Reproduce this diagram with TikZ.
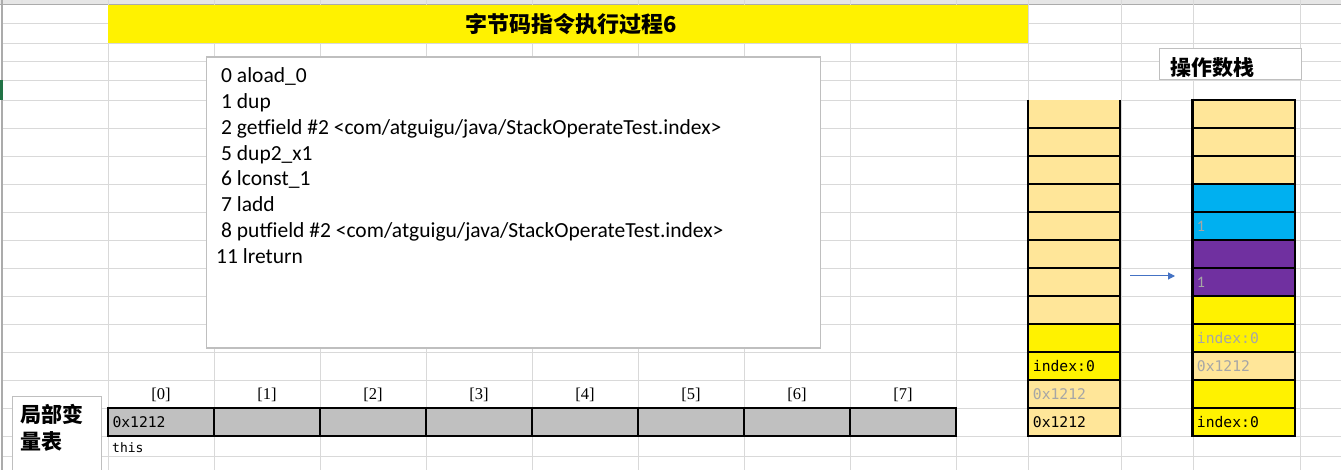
\documentclass[tikz,border=0pt]{standalone}
\usepackage{fontspec}
\usepackage{xcolor}
\usetikzlibrary{positioning,arrows.meta}
\newfontfamily\cjk{Noto Sans CJK SC}
\newfontfamily\codefont{Carlito}
\newfontfamily\cellfont{DejaVu Sans Mono}
\newfontfamily\idxfont{Liberation Serif}

\definecolor{gridgray}{HTML}{D9D9D9}
\definecolor{headgray}{HTML}{E6E6E6}
\definecolor{headline}{HTML}{ABABAB}
\definecolor{boxgray}{HTML}{BFBFBF}
\definecolor{cellbuff}{HTML}{FFE699}
\definecolor{stackblue}{HTML}{00B0F0}
\definecolor{stackpurple}{HTML}{7030A0}
\definecolor{lvgray}{HTML}{C0C0C0}
\definecolor{fadetext}{HTML}{A6A6A6}
\definecolor{arrowblue}{HTML}{4472C4}
\definecolor{selgreen}{HTML}{217346}

\tikzset{
  gridline/.style={
    draw = gridgray,
    line width = 0.8pt
  },
  textbox/.style={
    draw = boxgray,
    line width = 1.2pt,
    fill = white,
    inner sep = 0pt
  },
  lvcell/.style={
    draw,
    line width = 2.5pt,
    fill = lvgray,
    minimum width = 106pt,
    minimum height = 28pt,
    inner sep = 0pt,
    outer sep = 0pt
  },
  lstack/.style={
    draw,
    line width = 2.6pt,
    minimum width = 92pt,
    minimum height = 28pt,
    inner sep = 0pt,
    outer sep = 0pt
  },
  rstack/.style={
    draw,
    line width = 2.6pt,
    minimum width = 102.5pt,
    minimum height = 28pt,
    inner sep = 0pt,
    outer sep = 0pt
  },
  val/.style={
    anchor = west,
    inner sep = 0pt,
    font = \cellfont\fontsize{14.7}{16}\selectfont
  },
  numval/.style={
    anchor = west,
    inner sep = 0pt,
    text = fadetext,
    font = \codefont\fontsize{16}{17}\selectfont
  },
  fadedtext/.style={
    text = fadetext
  },
  idx/.style={
    inner sep = 0pt,
    font = \idxfont\fontsize{16.5}{18}\selectfont
  },
  codeline/.style={
    anchor = base west,
    inner sep = 0pt,
    font = \codefont\fontsize{21.5}{24}\selectfont
  },
  cjklabel/.style={
    inner sep = 0pt,
    font = \cjk\bfseries\fontsize{21}{27}\selectfont
  }
}

\begin{document}
\begin{tikzpicture}[x=1pt,y=-1pt]
    \useasboundingbox (0,0) rectangle (1341,470);
    \fill[white] (0,0) rectangle (1341,470);

    % sheet grid
    \fill[headgray] (0,0) rectangle (1341,4.5);
    \draw[headline] (0,4.5) -- (1341,4.5);
    \draw[headline, line width=1.2pt] (2,0) -- (2,470);
    \fill[selgreen] (0,80) rectangle (2.5,100);
    \foreach \gx in {108,214,...,956,1028,1121,1193,1300}
        \draw[gridline] (\gx,0) -- (\gx,470);
    \foreach \gy in {23,43,61,80,100,128,...,436,456}
        \draw[gridline] (3,\gy) -- (1341,\gy);

    % title
    \node[fill=yellow, minimum width=920pt, minimum height=38pt, inner sep=0pt] (title) at (568,24) {};
    \node[cjklabel, font=\cjk\bfseries\fontsize{22}{24}\selectfont] (titletext) at (571,24) {字节码指令执行过程6};

    % bytecode listing
    \node[textbox, minimum width=614pt, minimum height=291pt] (codebox) at (513.5,202.5) {};
    \node[codeline] (c0) at (221,82.7) {0 aload\_0};
    \node[codeline] (c1) at (221,108.5) {1 dup};
    \node[codeline] (c2) at (221,134.3) {2 getfield \#2 <com/atguigu/java/StackOperateTest.index>};
    \node[codeline] (c5) at (221,160.1) {5 dup2\_x1};
    \node[codeline] (c6) at (221,185.9) {6 lconst\_1};
    \node[codeline] (c7) at (221,211.7) {7 ladd};
    \node[codeline] (c8) at (221,237.5) {8 putfield \#2 <com/atguigu/java/StackOperateTest.index>};
    \node[codeline] (c11) at (216,263.3) {11 lreturn};

    % operand stack caption
    \node[textbox, minimum width=142pt, minimum height=31pt] (opbox) at (1230.5,63.8) {};
    \node[cjklabel, anchor=west] (optext) at (1170.5,67.5) {操作数栈};

    % left stack
    \node[lstack, draw=none, fill=cellbuff] (ls1) at (1074,114) {};
    \draw[line width=2.6pt] (ls1.north west) -- (ls1.south west) (ls1.north east) -- (ls1.south east);
    \node[lstack, fill=cellbuff] (ls2) at (1074,142) {};
    \node[lstack, fill=cellbuff] (ls3) at (1074,170) {};
    \node[lstack, fill=cellbuff] (ls4) at (1074,198) {};
    \node[lstack, fill=cellbuff] (ls5) at (1074,226) {};
    \node[lstack, fill=cellbuff] (ls6) at (1074,254) {};
    \node[lstack, fill=cellbuff] (ls7) at (1074,282) {};
    \node[lstack, fill=cellbuff] (ls8) at (1074,310) {};
    \node[lstack, fill=yellow] (ls9) at (1074,338) {};
    \node[lstack, fill=yellow] (ls10) at (1074,366) {};
    \node[lstack, fill=cellbuff] (ls11) at (1074,394) {};
    \node[lstack, fill=cellbuff] (ls12) at (1074,422) {};
    \node[val] (ls10v) at ([xshift=4.7pt]ls10.west) {index:0};
    \node[val, fadedtext] (ls11v) at ([xshift=4.7pt]ls11.west) {0x1212};
    \node[val] (ls12v) at ([xshift=4.7pt]ls12.west) {0x1212};

    % right stack
    \node[rstack, fill=cellbuff] (rs1) at (1243.75,114) {};
    \node[rstack, fill=cellbuff] (rs2) at (1243.75,142) {};
    \node[rstack, fill=cellbuff] (rs3) at (1243.75,170) {};
    \node[rstack, fill=stackblue] (rs4) at (1243.75,198) {};
    \node[rstack, fill=stackblue] (rs5) at (1243.75,226) {};
    \node[rstack, fill=stackpurple] (rs6) at (1243.75,254) {};
    \node[rstack, fill=stackpurple] (rs7) at (1243.75,282) {};
    \node[rstack, fill=yellow] (rs8) at (1243.75,310) {};
    \node[rstack, fill=yellow] (rs9) at (1243.75,338) {};
    \node[rstack, fill=cellbuff] (rs10) at (1243.75,366) {};
    \node[rstack, fill=yellow] (rs11) at (1243.75,394) {};
    \node[rstack, fill=yellow] (rs12) at (1243.75,422) {};
    \node[numval] (rs5v) at ([xshift=4.2pt]rs5.west) {1};
    \node[numval] (rs7v) at ([xshift=4.2pt]rs7.west) {1};
    \node[val, fadedtext] (rs9v) at ([xshift=4.2pt]rs9.west) {index:0};
    \node[val, fadedtext] (rs10v) at ([xshift=4.2pt]rs10.west) {0x1212};
    \node[val] (rs12v) at ([xshift=4.2pt]rs12.west) {index:0};

    \coordinate (arrS) at (1130,276);
    \coordinate (arrE) at (1175,276);
    \draw[arrowblue, line width=1pt, -{Triangle[length=7pt,width=7pt]}] (arrS) -- (arrE);

    % local variable table
    \node[textbox, minimum width=89pt, minimum height=80pt, anchor=north west] (lvbox) at (12,396) {};
    \node[cjklabel, align=left, anchor=west] (lvtext) at (20.5,428) {局部变\\量表};

    \node[lvcell] (lv0) at (161,422) {};
    \node[lvcell] (lv1) at (267,422) {};
    \node[lvcell] (lv2) at (373,422) {};
    \node[lvcell] (lv3) at (479,422) {};
    \node[lvcell] (lv4) at (585,422) {};
    \node[lvcell] (lv5) at (691,422) {};
    \node[lvcell] (lv6) at (797,422) {};
    \node[lvcell] (lv7) at (903,422) {};
    \node[val] (lv0v) at ([xshift=4.3pt]lv0.west) {0x1212};
    \node[val, anchor=west, font=\cellfont\fontsize{13}{14}\selectfont] (lv0n) at (112,448) {this};

    \node[idx] (i0) at (161,395) {[0]};
    \node[idx] (i1) at (267,395) {[1]};
    \node[idx] (i2) at (373,395) {[2]};
    \node[idx] (i3) at (479,395) {[3]};
    \node[idx] (i4) at (585,395) {[4]};
    \node[idx] (i5) at (691,395) {[5]};
    \node[idx] (i6) at (797,395) {[6]};
    \node[idx] (i7) at (903,395) {[7]};
\end{tikzpicture}
\end{document}
